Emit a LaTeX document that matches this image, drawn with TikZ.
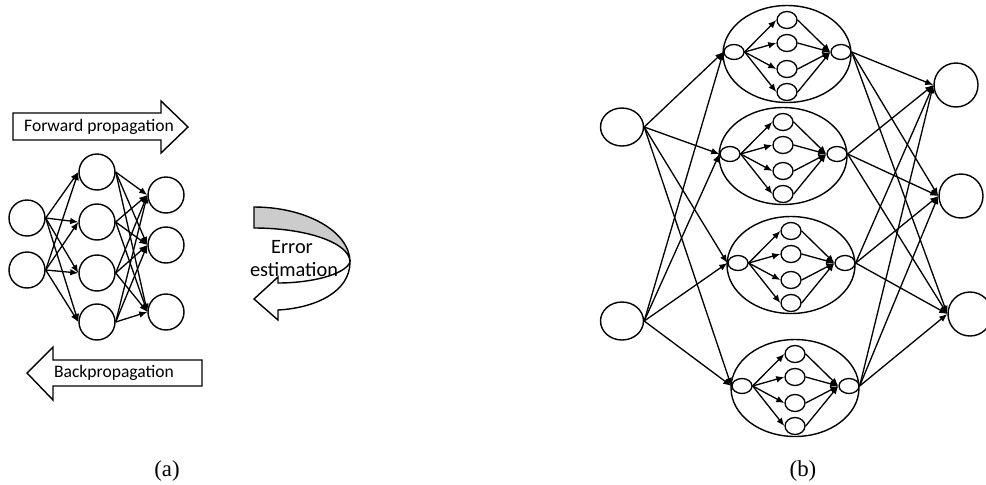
\documentclass[tikz,border=0pt]{standalone}
\usepackage{fontspec}
\setmainfont{Liberation Serif}
\newfontfamily\calibri{Carlito}
\usetikzlibrary{arrows.meta,shapes.geometric}

\tikzset{
  neuron/.style={circle,draw,line width=0.8pt,inner sep=0pt,minimum size=0.72cm},
  bigunit/.style={ellipse,draw,line width=0.8pt,inner sep=0pt,minimum width=0.86cm,minimum height=0.76cm},
  outunit/.style={circle,draw,line width=0.8pt,inner sep=0pt,minimum size=0.88cm},
  module/.style={ellipse,draw,line width=0.8pt,inner sep=0pt,minimum width=2.56cm,minimum height=1.94cm},
  unitsm/.style={ellipse,draw,line width=0.75pt,inner sep=0pt,minimum width=0.4cm,minimum height=0.3cm},
  unit/.style={ellipse,draw,line width=0.75pt,inner sep=0pt,minimum width=0.4cm,minimum height=0.34cm},
  conn/.style={-{Latex[length=4.6pt,width=3.8pt]},line width=0.75pt},
  blocktext/.style={font=\calibri\fontsize{10}{12}\selectfont,inner sep=0pt},
  errtext/.style={font=\calibri\fontsize{11.6}{13}\selectfont,inner sep=0pt},
  captext/.style={font=\fontsize{13}{15}\selectfont,inner sep=0pt}
}

\begin{document}
\begin{tikzpicture}[x=0.02cm,y=-0.02cm]
  \clip (0,0) rectangle (986,484);
  \useasboundingbox (0,0) rectangle (986,484);

  % (a) small network
  \node[neuron] (a-in1) at (27,218) {};
  \node[neuron] (a-in2) at (27,270) {};
  \node[neuron] (a-hid1) at (97,172) {};
  \node[neuron] (a-hid2) at (97,222) {};
  \node[neuron] (a-hid3) at (97,273) {};
  \node[neuron] (a-hid4) at (97,322) {};
  \node[neuron] (a-out1) at (166,195) {};
  \node[neuron] (a-out2) at (166,245) {};
  \node[neuron] (a-out3) at (166,312) {};
  \foreach \i in {1,2}
    \foreach \j in {1,...,4}
      \draw[conn] (a-in\i.east) -- (a-hid\j.west);
  \foreach \j in {1,...,4}
    \foreach \k in {1,2,3}
      \draw[conn] (a-hid\j.east) -- (a-out\k.west);

  % forward / backward block arrows
  \draw[line width=0.8pt] (13,113) -- (161,113) -- (161,101) -- (188,127) -- (161,153) -- (161,140) -- (13,140) -- cycle;
  \node[blocktext] (fwd) at (99,127) {Forward propagation};
  \draw[line width=0.8pt] (202,360) -- (53,360) -- (53,347) -- (27,373) -- (53,400) -- (53,386) -- (202,386) -- cycle;
  \node[blocktext] (bwd) at (114,373) {Backpropagation};

  % error estimation (curved arrow)
  \draw[line width=0.8pt,fill=black!20] (254,207) .. controls (307,207) and (350,232) .. (350,262)
    .. controls (350,243) and (307,228) .. (254,228) -- cycle;
  \draw[line width=0.8pt,fill=white] (350,262) .. controls (345,275) and (310,283) .. (278,283)
    -- (278,277) -- (254,299) -- (278,320) -- (278,310)
    .. controls (315,308) and (350,292) .. (350,262) -- cycle;
  \node[errtext] (err1) at (292,247) {Error};
  \node[errtext] (err2) at (294,270) {estimation};

  % (b) network of modules
  \node[bigunit] (b-in1) at (622,127) {};
  \node[bigunit] (b-in2) at (622,321) {};
  \node[outunit] (b-out1) at (956,85) {};
  \node[outunit] (b-out2) at (961,196) {};
  \node[outunit] (b-out3) at (970,314) {};
  \foreach \m/\mx/\my in {1/787/54,2/783/156,3/791/265,4/795/388} {
    \node[module] (m\m) at (\mx,\my) {};
    \node[unitsm] (m\m-l) at ({\mx-53},{\my-2}) {};
    \node[unitsm] (m\m-r) at ({\mx+54},{\my-2}) {};
    \foreach \k/\dy in {1/-34,2/-11,3/15,4/38} {
      \node[unit] (m\m-h\k) at (\mx,{\my+\dy}) {};
      \draw[conn] (m\m-l.east) -- (m\m-h\k.west);
      \draw[conn] (m\m-h\k.east) -- (m\m-r.west);
    }
    \foreach \i in {1,2}
      \draw[conn] (b-in\i.east) -- (m\m-l.west);
    \foreach \o in {1,2,3}
      \draw[conn] (m\m-r.east) -- (b-out\o.west);
  }

  \node[captext] (capa) at (167,471) {(a)};
  \node[captext] (capb) at (803,471) {(b)};
\end{tikzpicture}
\end{document}
